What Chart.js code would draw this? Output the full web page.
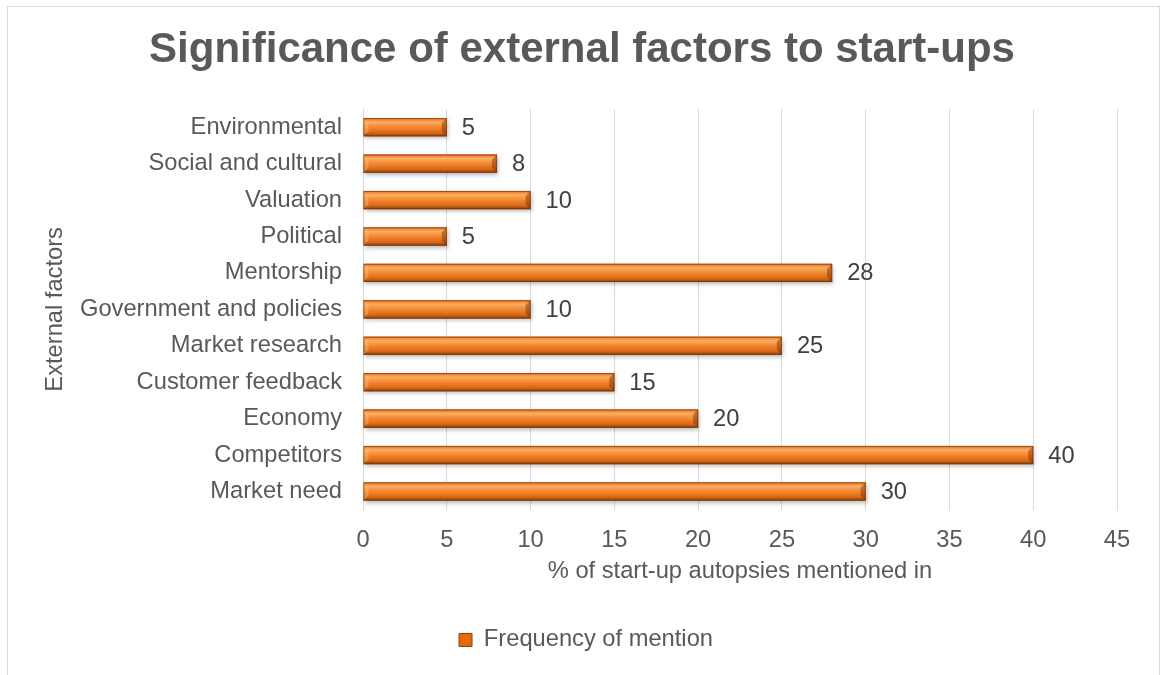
<!DOCTYPE html>
<html>
<head>
<meta charset="utf-8">
<script src="https://cdn.jsdelivr.net/npm/chart.js@4.4.0/dist/chart.umd.min.js"></script>
<style>
  html, body { margin: 0; padding: 0; background: #ffffff; overflow: hidden; }
  #wrap { position: relative; width: 1160px; height: 675px; }
  #frame { position: absolute; left: 7px; top: 6px; width: 1153px; height: 700px; border: 1px solid #d9d9d9; box-sizing: border-box; pointer-events: none; }
  canvas { position: absolute; left: 0; top: 0; }
</style>
</head>
<body>
<div id="wrap">
  <div id="frame"></div>
  <canvas id="c" width="1160" height="675"></canvas>
</div>
<script>
const chartTitle = 'Significance of external factors to start-ups';
const categories = [
  'Environmental',
  'Social and cultural',
  'Valuation',
  'Political',
  'Mentorship',
  'Government and policies',
  'Market research',
  'Customer feedback',
  'Economy',
  'Competitors',
  'Market need'
];
const frequencyOfMention = [5, 8, 10, 5, 28, 10, 25, 15, 20, 40, 30];
const seriesName = 'Frequency of mention';
const xAxisTitle = '% of start-up autopsies mentioned in';
const yAxisTitle = 'External factors';
const xMin = 0, xMax = 45, xStep = 5;

const FONT = '"Liberation Sans", Arial, sans-serif';
const TEXT = '#595959';
const FS = 23.7;

// Beveled orange bar overlay + value labels, using the library's element positions
const barStyle = {
  id: 'barStyle',
  afterDatasetsDraw(chart) {
    const ctx = chart.ctx;
    const meta = chart.getDatasetMeta(0);
    const data = chart.data.datasets[0].data;
    meta.data.forEach((bar, i) => {
      const p = bar.getProps(['x', 'y', 'base', 'height'], true);
      const left = Math.min(p.base, p.x), right = Math.max(p.base, p.x);
      const top = p.y - p.height / 2, bottom = p.y + p.height / 2;
      const w = right - left, h = bottom - top;
      ctx.save();
      ctx.shadowColor = 'rgba(0,0,0,0.28)';
      ctx.shadowBlur = 4;
      ctx.shadowOffsetX = 1;
      ctx.shadowOffsetY = 2;
      const g = ctx.createLinearGradient(0, top, 0, bottom);
      g.addColorStop(0.00, '#D9650F');
      g.addColorStop(0.08, '#F08733');
      g.addColorStop(0.22, '#FAAE66');
      g.addColorStop(0.40, '#F6933D');
      g.addColorStop(0.62, '#EC7A22');
      g.addColorStop(0.80, '#D8691A');
      g.addColorStop(0.92, '#A9500F');
      g.addColorStop(1.00, '#7E3A0B');
      ctx.fillStyle = g;
      ctx.fillRect(left, top, w, h);
      ctx.restore();
      // bevels
      const b = Math.min(5, w / 2);
      ctx.save();
      ctx.beginPath();
      ctx.moveTo(right - b, top + b);
      ctx.lineTo(right, top);
      ctx.lineTo(right, bottom);
      ctx.lineTo(right - b, bottom - b);
      ctx.closePath();
      ctx.fillStyle = 'rgba(110,45,5,0.45)';
      ctx.fill();
      ctx.beginPath();
      ctx.moveTo(left, top);
      ctx.lineTo(left + b, top + b);
      ctx.lineTo(left + b, bottom - b);
      ctx.lineTo(left, bottom);
      ctx.closePath();
      ctx.fillStyle = 'rgba(255,200,140,0.35)';
      ctx.fill();
      ctx.strokeStyle = 'rgba(120,50,8,0.6)';
      ctx.lineWidth = 1;
      ctx.strokeRect(left + 0.5, top + 0.5, w - 1, h - 1);
      ctx.restore();
      // value label
      ctx.save();
      ctx.font = FS + 'px ' + FONT;
      ctx.fillStyle = '#404040';
      ctx.textAlign = 'left';
      ctx.textBaseline = 'middle';
      ctx.fillText(String(data[i]), right + 15, p.y + 1);
      ctx.restore();
    });
  }
};

// Center title and legend on the whole frame like the original
const recenter = {
  id: 'recenter',
  afterLayout(chart) {
    const t = chart.titleBlock;
    if (t) { const s = 582 - (t.left + t.right) / 2; t.left += s; t.right += s; }
    const l = chart.legend;
    if (l) { const s = 586 - (l.left + l.right) / 2; l.left += s; l.right += s; }
  }
};

new Chart(document.getElementById('c'), {
  type: 'bar',
  data: {
    labels: categories,
    datasets: [{
      label: seriesName,
      data: frequencyOfMention,
      backgroundColor: '#ED7D31',
      borderWidth: 0,
      barPercentage: 0.5,
      categoryPercentage: 1.0
    }]
  },
  options: {
    indexAxis: 'y',
    responsive: false,
    animation: false,
    layout: { padding: { left: 10, right: 43, top: 0, bottom: 13.2 } },
    plugins: {
      tooltip: { enabled: false },
      title: {
        display: true,
        text: chartTitle,
        color: TEXT,
        font: { family: FONT, size: 42, weight: 'bold', lineHeight: 1.2 },
        padding: { top: 25, bottom: 33.6 }
      },
      legend: {
        display: true,
        position: 'bottom',
        labels: {
          color: TEXT,
          font: { family: FONT, size: FS },
          boxWidth: 13,
          boxHeight: 13,
          padding: 42,
          generateLabels(chart) {
            return [{
              text: chart.data.datasets[0].label,
              fillStyle: '#E46C0A',
              strokeStyle: '#8E3F09',
              lineWidth: 1,
              fontColor: TEXT,
              datasetIndex: 0,
              hidden: false
            }];
          }
        }
      }
    },
    scales: {
      x: {
        type: 'linear',
        min: xMin,
        max: xMax,
        ticks: { stepSize: xStep, color: TEXT, font: { family: FONT, size: FS }, padding: 17 },
        grid: { color: '#d9d9d9', lineWidth: 1, drawTicks: false },
        border: { display: false },
        title: {
          display: true,
          text: xAxisTitle,
          color: TEXT,
          font: { family: FONT, size: FS, lineHeight: 1.2 },
          padding: { top: 0, bottom: 0 }
        },
        afterFit(scale) { scale.height = 76.4; }
      },
      y: {
        type: 'category',
        ticks: { color: TEXT, font: { family: FONT, size: FS }, padding: 21, autoSkip: false },
        grid: { display: false, drawTicks: false },
        border: { display: true, color: '#d9d9d9', width: 1 },
        title: {
          display: true,
          text: yAxisTitle,
          color: TEXT,
          font: { family: FONT, size: FS, lineHeight: 1.2 },
          padding: { top: 31, bottom: 0 }
        },
        afterFit(scale) { scale.width = 353; }
      }
    }
  },
  plugins: [barStyle, recenter]
});
</script>
</body>
</html>
